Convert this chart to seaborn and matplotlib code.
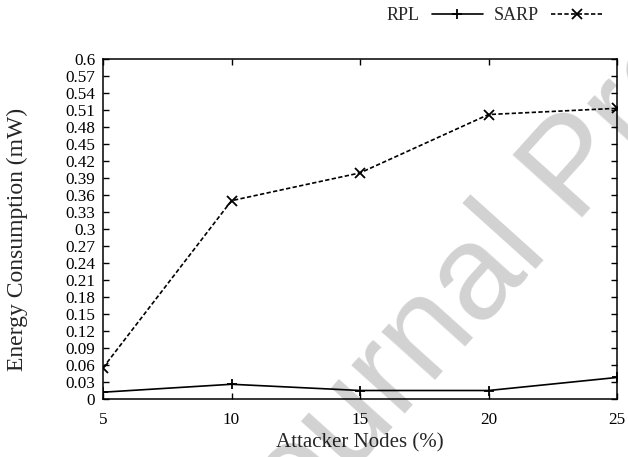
import numpy as np
import pandas as pd
import matplotlib
matplotlib.use("Agg")
import matplotlib.pyplot as plt
import seaborn as sns

attackers = [5, 10, 15, 20, 25]
rpl = [0.012, 0.026, 0.015, 0.015, 0.038]
sarp = [0.055, 0.350, 0.399, 0.502, 0.513]
y_ticks = [0, 0.03, 0.06, 0.09, 0.12, 0.15, 0.18, 0.21, 0.24, 0.27, 0.3,
           0.33, 0.36, 0.39, 0.42, 0.45, 0.48, 0.51, 0.54, 0.57, 0.6]
y_labels = ["0", "0.03", "0.06", "0.09", "0.12", "0.15", "0.18", "0.21", "0.24",
            "0.27", "0.3", "0.33", "0.36", "0.39", "0.42", "0.45", "0.48", "0.51",
            "0.54", "0.57", "0.6"]

df = pd.DataFrame({
    "x": attackers * 2,
    "y": rpl + sarp,
    "series": ["RPL"] * len(rpl) + ["SARP"] * len(sarp),
})

sns.set_style("ticks")
plt.rcParams["font.family"] = ["Liberation Serif", "DejaVu Serif"]

fig = plt.figure(figsize=(6.28, 4.57), dpi=100)
ax = fig.add_axes([103 / 628, 1 - 399 / 457, 514 / 628, 340 / 457])

sns.lineplot(data=df, x="x", y="y", hue="series", style="series",
             palette={"RPL": "black", "SARP": "black"},
             markers={"RPL": "+", "SARP": "x"},
             dashes={"RPL": "", "SARP": (2.6, 1.4)},
             markersize=7.5, markeredgewidth=1.3, markeredgecolor="black",
             linewidth=1.2, ax=ax, legend=True)

ax.set_xlim(5, 25)
ax.set_ylim(0, 0.6)
ax.set_xticks(attackers)
ax.set_xticklabels([str(v) for v in attackers])
ax.set_yticks(y_ticks)
ax.set_yticklabels(y_labels)
ax.tick_params(direction="in", length=4.3, width=1, labelsize=12.3, colors="black",
               top=True, right=True)
ax.tick_params(axis="y", pad=5.5)
ax.tick_params(axis="x", pad=9)
for s in ax.spines.values():
    s.set_linewidth(1.1)
    s.set_color("black")
ax.set_xlabel("Attacker Nodes (%)", fontsize=15, labelpad=4)
ax.set_ylabel("Energy Consumption (mW)", fontsize=17)
ax.yaxis.set_label_coords(-0.146, 0.47)

handles, labels = ax.get_legend_handles_labels()
ax.get_legend().remove()
fig.legend(handles, labels, loc="center left", bbox_to_anchor=(387 / 628, 1 - 16 / 457),
           ncol=2, frameon=False, markerfirst=False, handlelength=2.85,
           columnspacing=0.6, handletextpad=0.65, fontsize=13,
           borderpad=0, borderaxespad=0)

fig.text(0.405, -0.272, "Journal Pre-proof", fontsize=97, rotation=48,
         rotation_mode="anchor", ha="left", va="baseline",
         family=["Liberation Sans", "DejaVu Sans"], color="black", alpha=0.18,
         zorder=10)

fig.savefig("out.png", dpi=100)
